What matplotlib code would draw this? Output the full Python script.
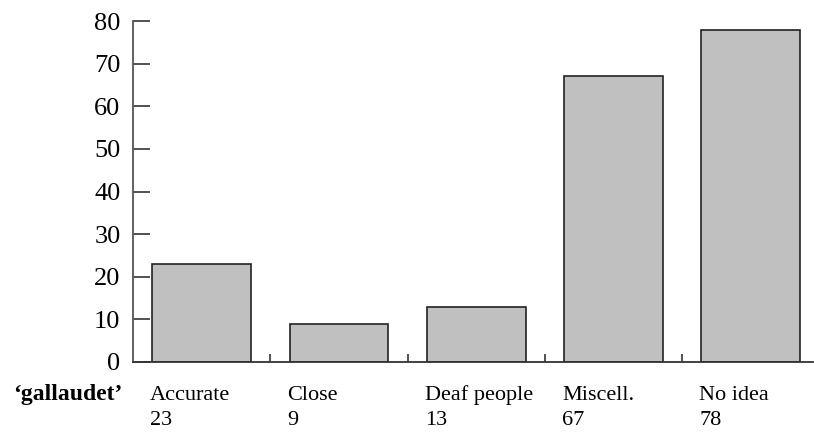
import matplotlib.pyplot as plt

plt.rcParams['font.family'] = ['Liberation Serif', 'DejaVu Serif']

categories = ['Accurate', 'Close', 'Deaf people', 'Miscell.', 'No idea']
counts = [23, 9, 13, 67, 78]
row_label = '\u2018gallaudet\u2019'
yticks = [0, 10, 20, 30, 40, 50, 60, 70, 80]

fig = plt.figure(figsize=(8.14, 4.32), dpi=100)
ax = fig.add_axes([133 / 814, 1 - 362 / 432, (813 - 133) / 814, (362 - 21) / 432])

x = list(range(len(categories)))
ax.bar(x, counts, width=0.72, color='#c0c0c0', edgecolor='#222222', linewidth=1.2)

ax.set_xlim(-0.5, -0.5 + (813 - 133) / 137.3)
ax.set_ylim(0, 80)

for side in ['top', 'right']:
    ax.spines[side].set_visible(False)
ax.spines['left'].set_color('#555555')
ax.spines['left'].set_linewidth(1.3)
ax.spines['bottom'].set_color('#333333')
ax.spines['bottom'].set_linewidth(1.3)

ax.set_yticks(yticks)
ax.set_yticklabels([str(v) for v in yticks], fontsize=19)
ax.tick_params(axis='y', direction='in', length=12, width=1.1, color='#222222', pad=9)

ax.set_xticks([])
ax.set_xticks([i + 0.5 for i in x[:-1]], minor=True)
ax.tick_params(axis='x', which='minor', direction='in', length=6, width=1.1, color='#222222')

trans = ax.get_xaxis_transform()
for i, (name, n) in enumerate(zip(categories, counts)):
    ax.text(i - 0.375, -0.111, name, transform=trans, ha='left', va='baseline', fontsize=16)
    ax.text(i - 0.375, -0.186, str(n), transform=trans, ha='left', va='baseline', fontsize=16)

fig.text(13 / 814, 1 - 400 / 432, row_label, ha='left', va='baseline', fontsize=17, fontweight='bold')

fig.savefig('out.png', dpi=100)
